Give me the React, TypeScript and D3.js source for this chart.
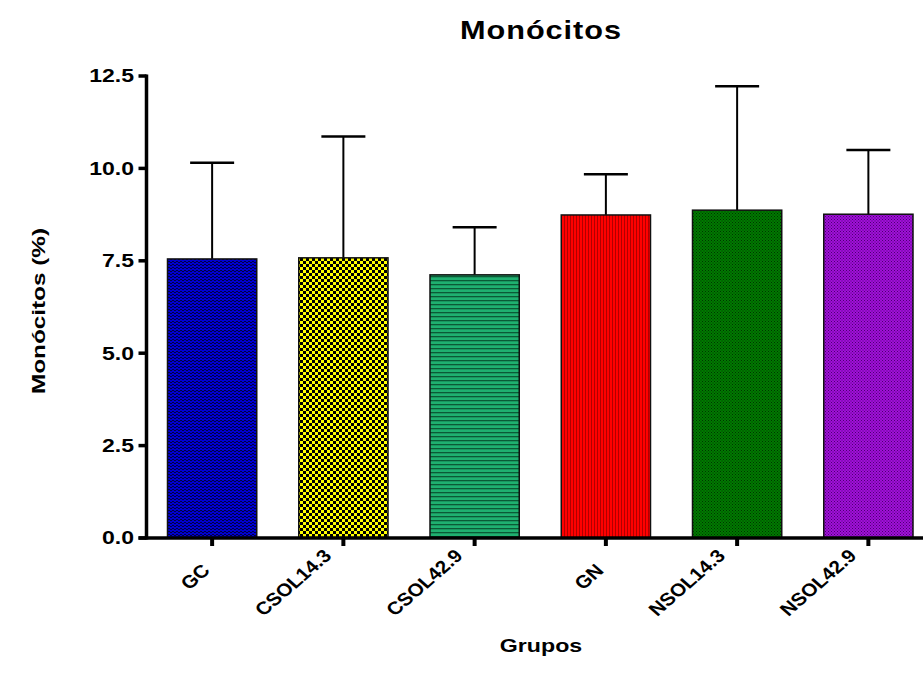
import React from "react";
import * as d3 from "d3";

const categories = ["GC", "CSOL14.3", "CSOL42.9", "GN", "NSOL14.3", "NSOL42.9"];
const means = [7.55, 7.58, 7.12, 8.74, 8.87, 8.76];
const upperErrors = [10.15, 10.86, 8.41, 9.84, 12.22, 10.5];
const yTicks = [0, 2.5, 5, 7.5, 10, 12.5];

const W = 923;
const H = 688;
const axisX = 146.5;
const axisY = 538;
const plotTop = 76;
// glyphs in this figure are drawn horizontally widened
const stretch = 1.28;
const FONT = "Liberation Sans, Arial, sans-serif";
const catFontSize = 18;

type Pat = { id: string; bg: string; w: number; h: number; draw: () => React.ReactNode };

const patterns: Pat[] = [
  {
    id: "p0", bg: "#0000d0", w: 4, h: 3,
    draw: () => (
      <>
        <rect x={0} y={0} width={2} height={1} fill="#000044" />
        <rect x={2} y={1} width={2} height={1} fill="#000044" />
      </>
    ),
  },
  {
    id: "p1", bg: "#ffff00", w: 6, h: 6,
    draw: () => (
      <>
        <rect x={0} y={0} width={3} height={3} fill="#000" />
        <rect x={3} y={3} width={3} height={3} fill="#000" />
      </>
    ),
  },
  {
    id: "p2", bg: "#1fb070", w: 4, h: 4,
    draw: () => <rect x={0} y={0} width={4} height={1.3} fill="#0b5a36" />,
  },
  {
    id: "p3", bg: "#ff0000", w: 3, h: 3,
    draw: () => <rect x={0} y={0} width={1} height={3} fill="#b00000" />,
  },
  {
    id: "p4", bg: "#007a00", w: 3, h: 3,
    draw: () => (
      <>
        <rect x={0} y={0} width={1} height={1} fill="#003300" />
        <rect x={1.5} y={1.5} width={1} height={1} fill="#003300" />
      </>
    ),
  },
  {
    id: "p5", bg: "#a010d8", w: 3, h: 3,
    draw: () => (
      <>
        <rect x={0} y={0} width={1} height={1} fill="#4a0070" />
        <rect x={1.5} y={1.5} width={1} height={1} fill="#4a0070" />
      </>
    ),
  },
];

// width of a category label, so it can be rotated about its own centre
function labelWidth(s: string): number {
  const ctx = document.createElement("canvas").getContext("2d");
  if (!ctx) return s.length * catFontSize * 0.6;
  ctx.font = `bold ${catFontSize}px "Liberation Sans", Arial, sans-serif`;
  return ctx.measureText(s).width;
}

export default function App() {
  const x = d3
    .scaleBand<string>()
    .domain(categories)
    .range([axisX, 934])
    .paddingInner(0.32)
    .paddingOuter(0.16);
  const y = d3.scaleLinear().domain([0, 12.5]).range([axisY, plotTop]);
  const bw = x.bandwidth();
  const capHalf = 22;
  const labelStretch = 1.15;

  return (
    <svg
      width={W}
      height={H}
      style={{ position: "absolute", left: 0, top: 0, background: "#fff" }}
      fontFamily={FONT}
      fontWeight="bold"
    >
      <defs>
        {patterns.map((p) => (
          <pattern key={p.id} id={p.id} width={p.w} height={p.h} patternUnits="userSpaceOnUse">
            <rect width={p.w} height={p.h} fill={p.bg} />
            {p.draw()}
          </pattern>
        ))}
      </defs>

      <text
        transform={`translate(541,39) scale(1.18,1)`}
        textAnchor="middle"
        fontSize={26}
        letterSpacing={0.8}
      >
        Monócitos
      </text>

      {categories.map((c, i) => {
        const x0 = x(c)!;
        const cx = x0 + bw / 2;
        return (
          <g key={c}>
            <line x1={cx} x2={cx} y1={y(means[i])} y2={y(upperErrors[i])} stroke="#000" strokeWidth={2} />
            <line
              x1={cx - capHalf}
              x2={cx + capHalf}
              y1={y(upperErrors[i])}
              y2={y(upperErrors[i])}
              stroke="#000"
              strokeWidth={2.5}
            />
            <rect
              x={x0}
              y={y(means[i])}
              width={bw}
              height={axisY - y(means[i])}
              fill={`url(#${patterns[i].id})`}
              stroke="#111"
              strokeWidth={1.5}
            />
          </g>
        );
      })}

      {/* y axis */}
      <line x1={axisX} x2={axisX} y1={plotTop - 1.5} y2={axisY + 1.5} stroke="#000" strokeWidth={3.5} />
      {yTicks.map((t) => (
        <g key={t}>
          <line x1={axisX - 8} x2={axisX} y1={y(t)} y2={y(t)} stroke="#000" strokeWidth={3.5} />
          <text
            transform={`translate(134,${y(t)}) scale(${stretch},1)`}
            dy="0.36em"
            textAnchor="end"
            fontSize={18}
          >
            {t.toFixed(1)}
          </text>
        </g>
      ))}

      {/* x axis */}
      <line x1={axisX - 8} x2={W} y1={axisY} y2={axisY} stroke="#000" strokeWidth={3.5} />
      {categories.map((c) => {
        const cx = x(c)! + bw / 2;
        const L = labelWidth(c);
        const mx = cx + 3.5 - (labelStretch * L) / 2;
        const my = axisY + 40.5 + 0.1 * L;
        return (
          <g key={c}>
            <line x1={cx} x2={cx} y1={axisY} y2={axisY + 8} stroke="#000" strokeWidth={4} />
            <text
              transform={`translate(${mx},${my}) scale(${labelStretch},1) rotate(-45)`}
              textAnchor="middle"
              fontSize={catFontSize}
            >
              {c}
            </text>
          </g>
        );
      })}

      <text
        transform={`translate(541,652) scale(1.22,1)`}
        textAnchor="middle"
        fontSize={19}
      >
        Grupos
      </text>
      <text
        transform={`translate(45,311) rotate(-90) scale(${stretch},1)`}
        textAnchor="middle"
        fontSize={19}
      >
        Monócitos (%)
      </text>
    </svg>
  );
}
